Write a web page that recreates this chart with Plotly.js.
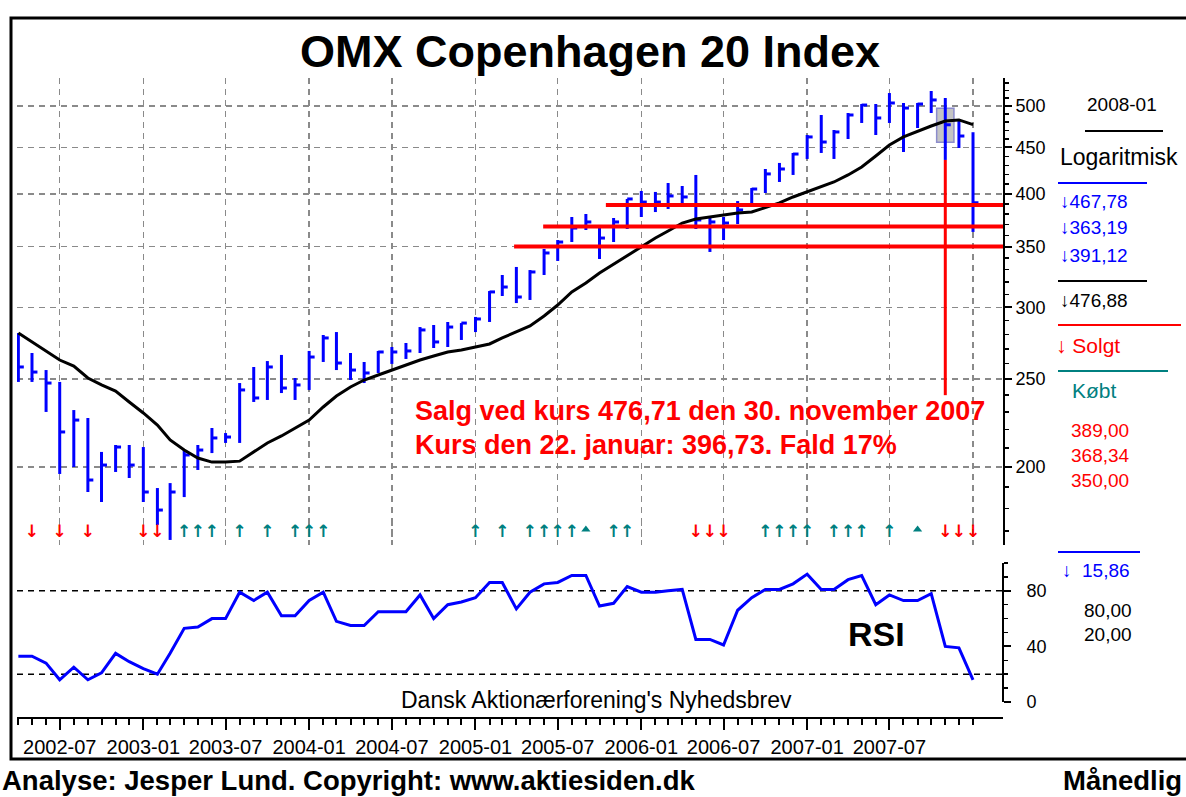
<!DOCTYPE html>
<html><head><meta charset="utf-8">
<script src="https://cdn.plot.ly/plotly-3.0.1.min.js"></script>
<style>html,body{margin:0;padding:0;background:#fff}#chart{width:1186px;height:797px}</style>
</head><body><div id="chart"></div>
<script>
// ---------------- DATA ----------------
const months = [
 '2002-04-01','2002-05-01','2002-06-01','2002-07-01','2002-08-01','2002-09-01','2002-10-01','2002-11-01','2002-12-01',
 '2003-01-01','2003-02-01','2003-03-01','2003-04-01','2003-05-01','2003-06-01','2003-07-01','2003-08-01','2003-09-01','2003-10-01','2003-11-01','2003-12-01',
 '2004-01-01','2004-02-01','2004-03-01','2004-04-01','2004-05-01','2004-06-01','2004-07-01','2004-08-01','2004-09-01','2004-10-01','2004-11-01','2004-12-01',
 '2005-01-01','2005-02-01','2005-03-01','2005-04-01','2005-05-01','2005-06-01','2005-07-01','2005-08-01','2005-09-01','2005-10-01','2005-11-01','2005-12-01',
 '2006-01-01','2006-02-01','2006-03-01','2006-04-01','2006-05-01','2006-06-01','2006-07-01','2006-08-01','2006-09-01','2006-10-01','2006-11-01','2006-12-01',
 '2007-01-01','2007-02-01','2007-03-01','2007-04-01','2007-05-01','2007-06-01','2007-07-01','2007-08-01','2007-09-01','2007-10-01','2007-11-01','2007-12-01',
 '2008-01-01'];
const high = [281.0,267.1,255.8,248.2,231.1,226.5,207.8,211.5,211.5,
 210.4,189.6,192.0,208.8,211.5,220.8,218.0,247.5,257.8,261.7,265.8,250.7,
 268.5,279.6,281.7,267.1,261.1,268.5,271.2,274.0,285.3,286.8,289.0,288.2,
 292.7,312.6,325.6,332.3,329.7,347.8,355.8,377.2,380.1,367.8,376.3,394.9,
 403.0,402.0,411.2,408.1,419.7,377.2,377.2,392.8,406.0,426.1,432.7,443.8,
 464.5,488.7,470.4,491.2,502.5,502.5,516.7,503.8,503.8,519.4,510.2,482.5,
 467.78];
const low = [248.2,248.2,230.0,196.5,200.0,187.7,183.0,197.5,194.5,
 183.0,172.6,166.2,185.3,198.5,207.2,212.6,212.6,235.9,237.1,241.3,237.1,
 243.2,261.1,255.8,249.4,247.5,253.9,259.8,263.1,267.1,270.5,271.2,276.1,
 281.7,289.0,308.7,303.2,305.6,325.6,337.4,354.0,365.0,339.1,354.0,365.9,
 377.2,382.0,385.0,386.9,365.9,345.2,355.8,370.6,386.9,400.9,412.3,419.7,
 437.1,443.8,437.1,459.8,478.9,464.5,478.9,444.9,472.8,491.2,436.0,449.4,
 363.19];
const close = [257.8,254.5,247.5,218.6,225.3,193.5,201.0,210.4,201.0,
 187.7,179.3,187.7,206.2,208.8,215.3,215.8,243.2,238.3,257.8,244.4,246.3,
 264.4,277.5,260.4,255.8,253.9,267.8,267.8,268.5,283.2,274.7,285.3,288.2,
 291.2,311.9,315.8,307.9,328.1,344.3,354.0,366.8,372.5,357.6,372.5,394.9,
 391.8,391.8,397.9,396.9,374.4,372.5,371.5,384.0,405.0,420.8,426.1,442.6,
 462.2,456.3,468.1,488.7,501.2,485.0,503.8,497.4,502.5,507.7,476.71,463.3,
 391.12];
const movingAverage = [281.0,274.7,268.5,262.4,258.4,250.7,246.3,242.5,235.9,
 229.4,222.5,214.2,208.8,204.6,202.5,202.5,203.0,207.8,212.6,216.4,220.8,
 225.3,232.9,239.5,245.0,249.4,252.6,255.8,259.1,262.4,265.1,267.8,269.2,
 271.2,273.3,277.5,281.7,286.1,293.4,301.7,311.9,319.0,327.2,334.8,341.7,
 349.6,357.6,364.1,371.5,375.3,377.2,379.1,381.1,382.0,386.0,390.9,396.9,
 402.0,407.1,412.3,419.7,428.3,440.4,452.9,462.2,469.2,475.2,481.3,482.6,
 476.88];
const rsi = [33,33,28,16,25,16,21,35,29,
 24,20,35,53,54,60,60,79,73,79,62,62,
 73,79,58,55,55,65,65,65,77,60,70,72,
 75,86,86,67,79,85,86,91,91,69,71,83,
 79,79,80,81,45,45,41,66,75,81,81,85,
 92,81,81,88,91,70,77,73,73,78,40,39,
 15.86];
const buySignals = ['2003-04-01','2003-05-01','2003-06-01','2003-08-01','2003-10-01','2003-12-01','2004-01-01','2004-02-01',
 '2005-01-01','2005-03-01','2005-05-01','2005-06-01','2005-07-01','2005-08-01','2005-11-01','2005-12-01',
 '2006-10-01','2006-11-01','2006-12-01','2007-01-01','2007-03-01','2007-04-01','2007-05-01','2007-07-01'];
const sellSignals = ['2002-05-01','2002-07-01','2002-09-01','2003-01-01','2003-02-01',
 '2006-05-01','2006-06-01','2006-07-01','2007-11-01','2007-12-01','2008-01-01'];
const neutralSignals = ['2005-09-01','2007-09-01'];
const supportLevels = [389.00, 368.34, 350.00];
const supportStart = ['2005-10-15','2005-05-30','2005-03-27'];
const rsiLevels = [80, 20];
const sellMonth = '2007-11-01';
const sellPrice = 476.71;
const sellDateText = '30. november 2007';
const currentPrice = 396.73;
const currentDateText = '22. januar';
const highlightRange = [456, 497];
const calloutLevel = 240;
const xTickVals = ['2002-07-01','2003-01-01','2003-07-01','2004-01-01','2004-07-01','2005-01-01','2005-07-01','2006-01-01','2006-07-01','2007-01-01','2007-07-01','2008-01-01'];
const xTickLabels = ['2002-07','2003-01','2003-07','2004-01','2004-07','2005-01','2005-07','2006-01','2006-07','2007-01','2007-07',''];
const yTickVals = [200,250,300,350,400,450,500];
const rsiTickVals = [0,40,80];

// ---------------- HELPERS ----------------
const FONT = 'Liberation Sans, Arial, sans-serif';
const W = 1186, H = 797, ML = 17, MR = 183, MT = 78, MB = 80;
const PW = W - ML - MR, PH = H - MT - MB;
const X = px => (px - ML) / PW;
const Y = py => (H - MB - py) / PH;
const BLUE = '#0000FF', RED = '#FF0000', TEAL = '#008080';
function addDays(s, d) { const t = new Date(s + 'T00:00:00Z'); t.setUTCDate(t.getUTCDate() + d); return t.toISOString().slice(0, 10); }
const fmt = v => v.toFixed(2).replace('.', ',');
const last = months.length - 1;
const sellIdx = months.indexOf(sellMonth);
const xRange = ['2002-03-29', '2008-03-07'];

// bars (high-low line + close tick on the right)
const bx = [], by = [];
months.forEach((m, i) => {
  bx.push(m, m, null, m, addDays(m, 12), null);
  by.push(low[i], high[i], null, close[i], close[i], null);
});

const traces = [
  {type:'scatter', mode:'lines', x:bx, y:by, xaxis:'x', yaxis:'y', line:{color:BLUE, width:3}, connectgaps:false, hoverinfo:'skip'},
  {type:'scatter', mode:'lines', x:months, y:movingAverage, xaxis:'x', yaxis:'y', line:{color:'#000', width:3}},
  {type:'scatter', mode:'lines', x:months, y:rsi, xaxis:'x2', yaxis:'y2', line:{color:BLUE, width:3}},
  {type:'scatter', mode:'text', x:buySignals, y:buySignals.map(() => 0.5), xaxis:'x', yaxis:'y3', text:buySignals.map(() => '↑'),
    textposition:'middle center', textfont:{family:'DejaVu Sans', size:17, color:TEAL, weight:'bold'}},
  {type:'scatter', mode:'text', x:sellSignals, y:sellSignals.map(() => 0.5), xaxis:'x', yaxis:'y3', text:sellSignals.map(() => '↓'),
    textposition:'middle center', textfont:{family:'DejaVu Sans', size:17, color:RED, weight:'bold'}},
  {type:'scatter', mode:'markers', x:neutralSignals, y:neutralSignals.map(() => 0.62), xaxis:'x', yaxis:'y3',
    marker:{symbol:'triangle-up', size:8, color:TEAL}}
];

// shapes (positions on the log axis are given in data units)
const shapes = [];
shapes.push({type:'rect', xref:'paper', yref:'paper', x0:X(11), x1:X(1200), y0:Y(759), y1:Y(18), line:{color:'#000', width:3}});
shapes.push({type:'line', xref:'paper', yref:'y2', x0:1, x1:1, y0:0, y1:100, line:{color:'#000', width:2}});
rsiLevels.forEach(v => shapes.push({type:'line', xref:'paper', yref:'y2', x0:0, x1:1, y0:v, y1:v, layer:'below', line:{color:'#000', width:1.5, dash:'6px,5px'}}));
shapes.push({type:'rect', xref:'x', yref:'y', x0:addDays(sellMonth, -19), x1:addDays(sellMonth, 19),
  y0:highlightRange[0], y1:highlightRange[1], layer:'below', fillcolor:'#C4C4C4', line:{color:'#8C8CCC', width:1.5}});
supportLevels.forEach((v, i) => shapes.push({type:'line', xref:'x', yref:'y', x0:supportStart[i], x1:xRange[1],
  y0:v, y1:v, line:{color:RED, width:4}}));
shapes.push({type:'line', xref:'x', yref:'y', x0:sellMonth, x1:sellMonth, y0:calloutLevel, y1:low[sellIdx], line:{color:RED, width:3}});
function hline(x0, x1, py, color) { shapes.push({type:'line', xref:'paper', yref:'paper', x0:X(x0), x1:X(x1), y0:Y(py), y1:Y(py), line:{color, width:2}}); }
hline(1085, 1163, 131, '#000');
hline(1058, 1147, 183, BLUE);
hline(1058, 1147, 281, '#000');
hline(1058, 1181, 325, RED);
hline(1058, 1168, 371, TEAL);
hline(1058, 1140, 552, BLUE);

// annotations
function ann(text, px, py, size, color, extra) {
  const a = {text, xref:'paper', yref:'paper', x:X(px), y:Y(py), xanchor:'left', yanchor:'middle', showarrow:false,
    font:{family:FONT, size, color}};
  return Object.assign(a, extra || {});
}
const fall = Math.round((1 - currentPrice / sellPrice) * 100);
const annotations = [
  ann('<b>Salg ved kurs ' + fmt(sellPrice) + ' den ' + sellDateText + '</b>', 413, 411, 27, RED),
  ann('<b>Kurs den ' + currentDateText + ': ' + fmt(currentPrice) + '. Fald ' + fall + '%</b>', 413, 445, 27, RED),
  ann('<b>RSI</b>', 876, 634, 34, '#000', {xanchor:'center'}),
  ann("Dansk Aktionærforening's Nyhedsbrev", 596, 700, 23, '#000', {xanchor:'center'}),
  ann('<b>Analyse: Jesper Lund. Copyright: www.aktiesiden.dk</b>', 0, 780, 27.5, '#000'),
  ann('<b>Månedlig</b>', 1061, 780, 27.5, '#000'),
  ann('2008-01', 1085, 104, 19, '#000'),
  ann('Logaritmisk', 1058, 157, 23, '#000'),
  ann('↓' + fmt(high[last]), 1058, 201, 19, BLUE),
  ann('↓' + fmt(low[last]), 1058, 228, 19, BLUE),
  ann('↓' + fmt(close[last]), 1058, 255, 19, BLUE),
  ann('↓' + fmt(movingAverage[last]), 1058, 300, 19, '#000'),
  ann('<b>↓</b> Solgt', 1054, 345, 21, RED),
  ann('Købt', 1070, 390, 21, TEAL),
  ann(fmt(supportLevels[0]), 1069, 430, 19, RED),
  ann(fmt(supportLevels[1]), 1069, 455, 19, RED),
  ann(fmt(supportLevels[2]), 1069, 480, 19, RED),
  ann('↓  ' + fmt(rsi[last]), 1060, 570, 19, BLUE),
  ann(fmt(rsiLevels[0]), 1082, 610, 19, '#000'),
  ann(fmt(rsiLevels[1]), 1082, 634, 19, '#000')
];

const yMinor = []; for (let v = 170; v <= 530; v += 10) if (!yTickVals.includes(v)) yMinor.push(v);

const layout = {
  width:W, height:H, autosize:false, showlegend:false,
  paper_bgcolor:'#fff', plot_bgcolor:'rgba(0,0,0,0)',
  margin:{l:ML, r:MR, t:MT, b:MB, pad:0},
  font:{family:FONT, color:'#000'},
  title:{text:'<b>OMX Copenhagen 20 Index</b>', font:{family:FONT, size:45, color:'#000'},
    xref:'container', yref:'container', x:590/W, xanchor:'center', y:1 - 51/H, yanchor:'middle'},
  xaxis:{type:'date', domain:[0,1], anchor:'y', range:xRange, showticklabels:false, ticks:'',
    showgrid:true, gridcolor:'#8a8a8a', gridwidth:1.5, griddash:'6px,5px',
    tickmode:'linear', tick0:'2002-01-01', dtick:'M6', zeroline:false, showline:false},
  xaxis2:{type:'date', domain:[0,1], anchor:'y2', matches:'x', range:xRange, showgrid:false, zeroline:false,
    showline:true, linecolor:'#000', linewidth:2,
    tickmode:'array', tickvals:xTickVals, ticktext:xTickLabels, ticks:'outside', ticklen:11, tickwidth:2, tickcolor:'#000',
    tickfont:{family:FONT, size:20, color:'#000'},
    minor:{tickmode:'array', tickvals:months, ticks:'outside', ticklen:6, tickwidth:2, tickcolor:'#000', showgrid:false}},
  yaxis:{type:'log', domain:[Y(545), 1], anchor:'x', side:'right',
    range:[Math.log10(164.08), Math.log10(536.8)],
    tickmode:'array', tickvals:yTickVals, ticktext:yTickVals.map(String),
    ticks:'outside', ticklen:7, tickwidth:2, tickcolor:'#000',
    tickfont:{family:FONT, size:18, color:'#000'},
    showline:true, linecolor:'#000', linewidth:2,
    showgrid:true, gridcolor:'#8a8a8a', gridwidth:1.5, griddash:'6px,5px', zeroline:false,
    minor:{tickmode:'array', tickvals:yMinor, ticks:'outside', ticklen:4, tickwidth:1.5, tickcolor:'#000', showgrid:false}},
  yaxis2:{domain:[0, Y(563)], anchor:'x2', side:'right', range:[-10.79, 100],
    tickmode:'array', tickvals:rsiTickVals, ticktext:rsiTickVals.map(String),
    ticks:'outside', ticklen:7, tickwidth:2, tickcolor:'#000', ticklabelstandoff:12,
    tickfont:{family:FONT, size:18, color:'#000'},
    showline:false, showgrid:false, zeroline:false,
    minor:{tickmode:'array', tickvals:[10,20,30,50,60,70,90,100], ticks:'outside', ticklen:4, tickwidth:1.5, tickcolor:'#000', showgrid:false}},
  yaxis3:{domain:[Y(545), Y(520)], anchor:'x', range:[0,1], visible:false, fixedrange:true},
  shapes, annotations
};

Plotly.newPlot('chart', traces, layout, {displayModeBar:false, staticPlot:true});
</script>
</body></html>
